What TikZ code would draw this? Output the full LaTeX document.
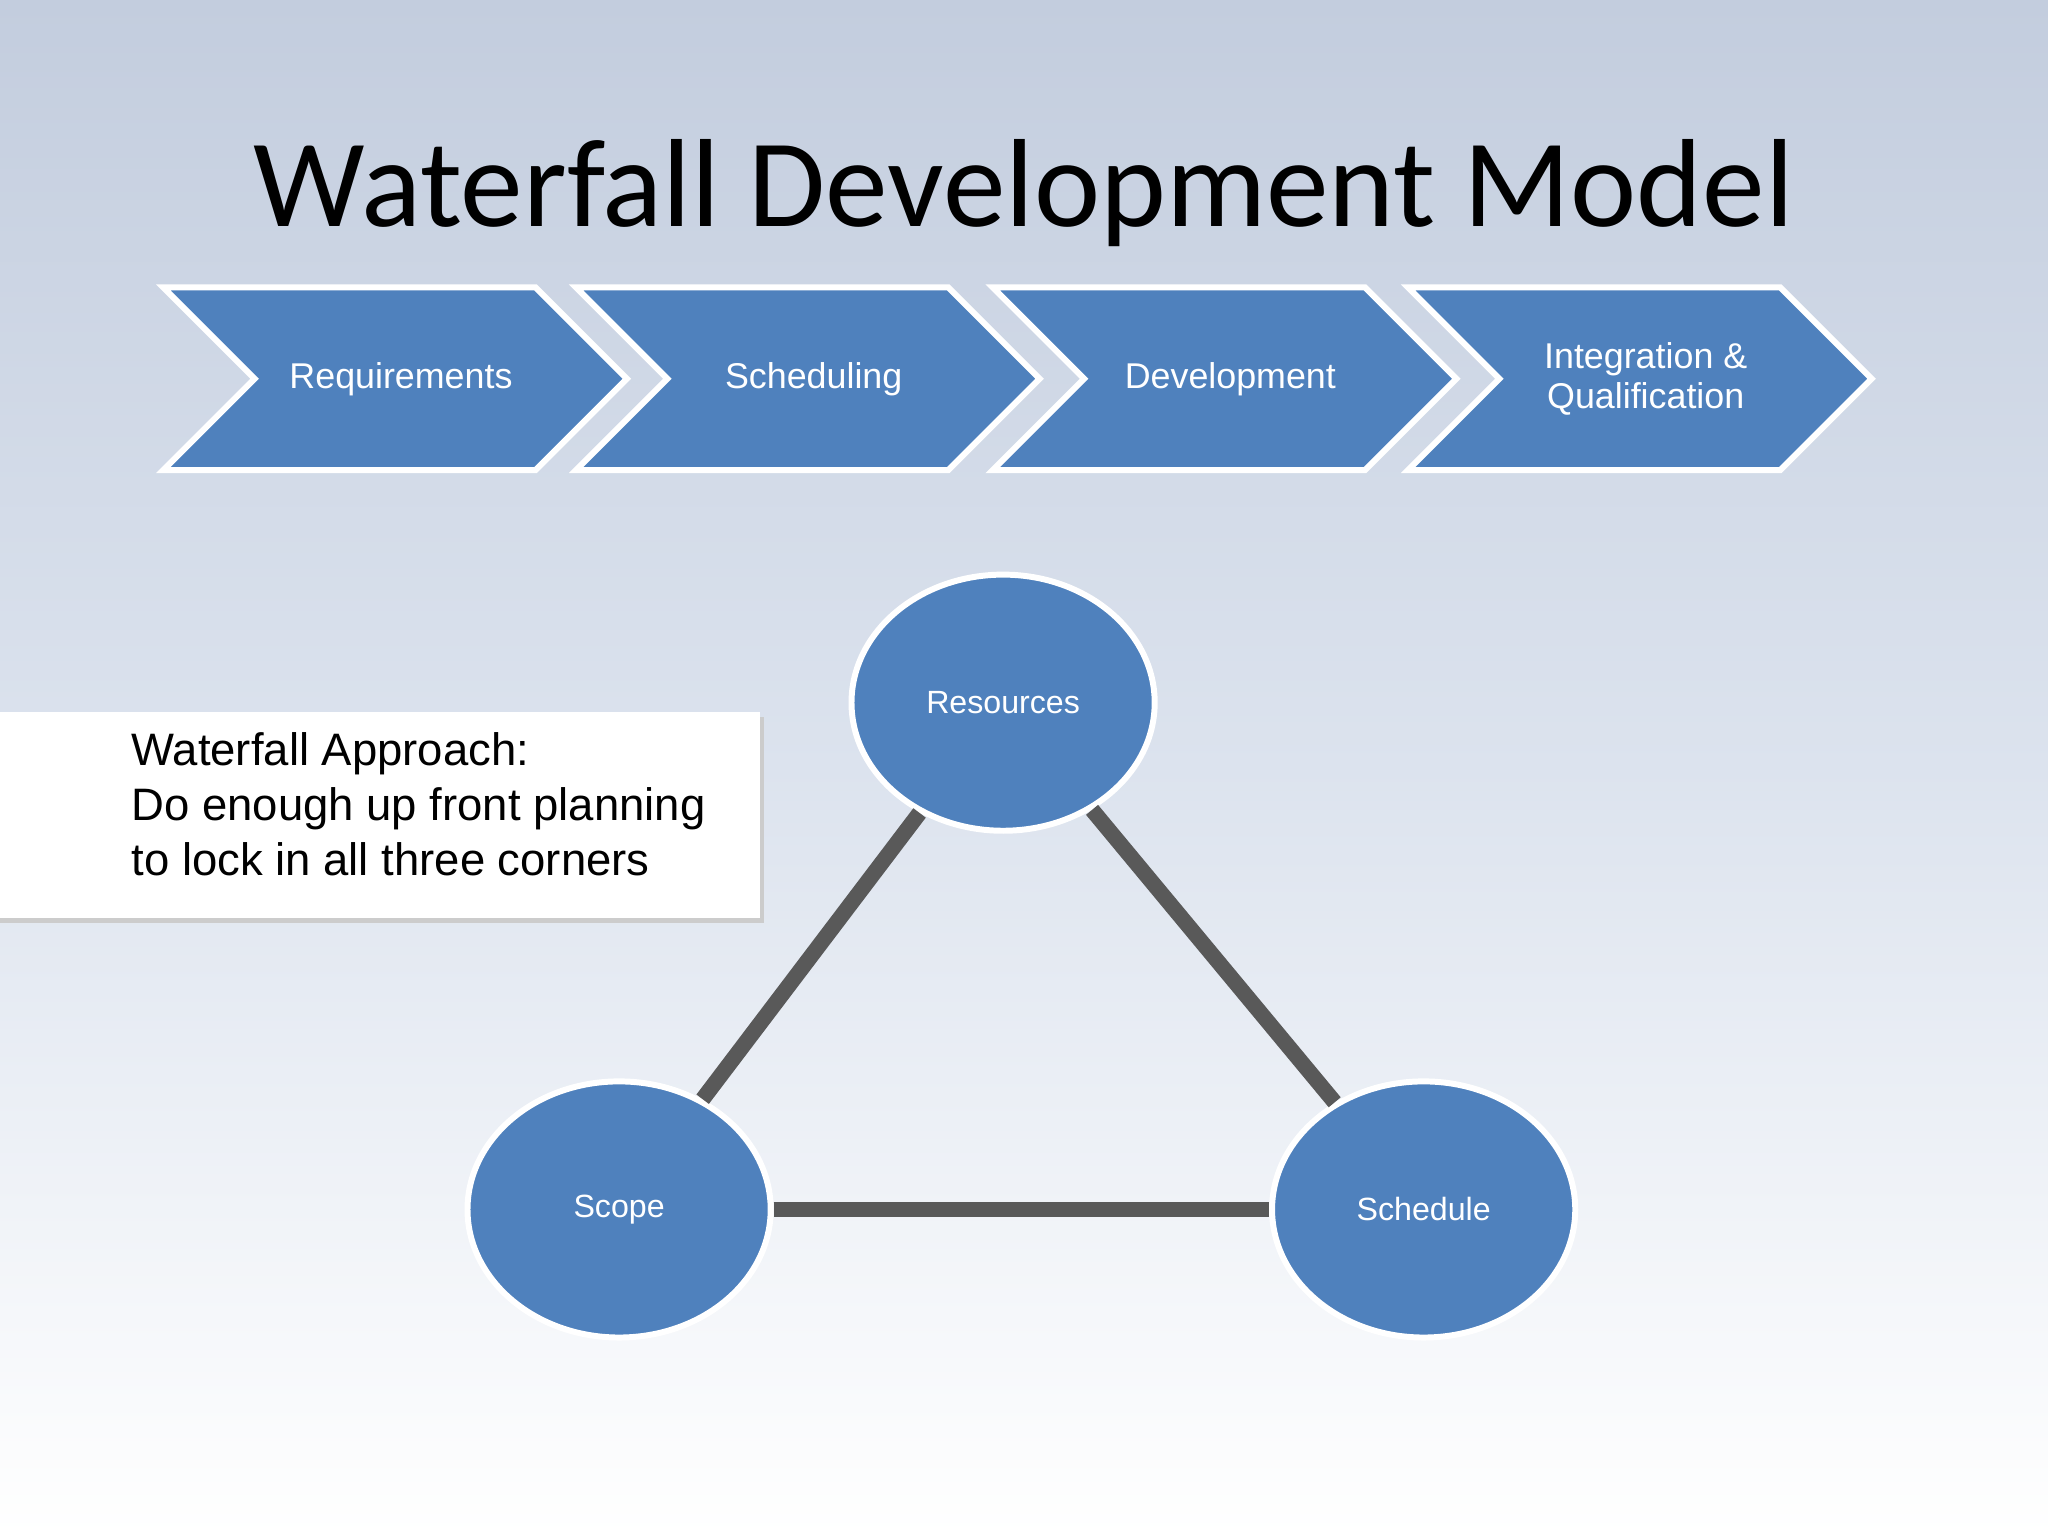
\documentclass[tikz,border=0pt]{standalone}
\usepackage{fontspec}
\setmainfont{Liberation Sans}
\newfontfamily\titlefont{Carlito}
\usetikzlibrary{shapes.geometric}
\definecolor{blu}{HTML}{4F81BD}
\definecolor{lin}{HTML}{595959}
\definecolor{bgtop}{HTML}{C3CDDE}
\definecolor{bgmid}{HTML}{DCE3EE}
\tikzset{
 chev/.style={fill=blu,draw=white,line width=1.3pt,line join=miter},
 chevtxt/.style={text=white,font=\fontsize{7.8}{8.6}\selectfont,align=center},
 circ/.style={ellipse,fill=blu,draw=white,line width=1.3pt,minimum width=2.32cm,minimum height=1.96cm,inner sep=0,text=white,font=\fontsize{7}{8}\selectfont},
 link/.style={draw=lin,line width=3.4pt}
}
\begin{document}
\begin{tikzpicture}[x=0.01cm,y=-0.01cm]
\shade[top color=bgtop,bottom color=white,middle color=bgmid] (0,0) rectangle (1568,1176);
\useasboundingbox (0,0) rectangle (1568,1176);
\node[font=\titlefont\fontsize{27.3}{30}\selectfont] (title) at (784,148) {Waterfall Development Model};
% chevrons
\foreach \x/\n in {125/a,441/b,760/c,1078/d}{
 \draw[chev] (\x,220) -- (\x+285,220) -- (\x+355,290) -- (\x+285,360) -- (\x,360) -- (\x+70,290) -- cycle;
 \coordinate (\n) at (\x+182,290);
}
\node[chevtxt] (t1) at (a) {Requirements};
\node[chevtxt] (t2) at (b) {Scheduling};
\node[chevtxt] (t3) at (c) {Development};
\node[chevtxt] (t4) at (d) {Integration \&\\Qualification};
% ellipses
\node[circ] (res) at (768,538) {Resources};
\node[circ] (scope) at (474,926) {Scope};
\node[circ] (sched) at (1090,926) {Schedule};
\begin{scope}[on background layer/.try]
\end{scope}
\draw[link] (res) -- (scope);
\draw[link] (scope) -- (sched);
\draw[link] (sched) -- (res);
% text box
\fill[gray!40] (0,549) rectangle (585,707);
\fill[white] (0,545) rectangle (582,703);
\node[anchor=north west,align=left,font=\fontsize{9.9}{12}\selectfont,inner sep=0] (box) at (100,560) {Waterfall Approach:\\Do enough up front planning\\to lock in all three corners};
\end{tikzpicture}
\end{document}
